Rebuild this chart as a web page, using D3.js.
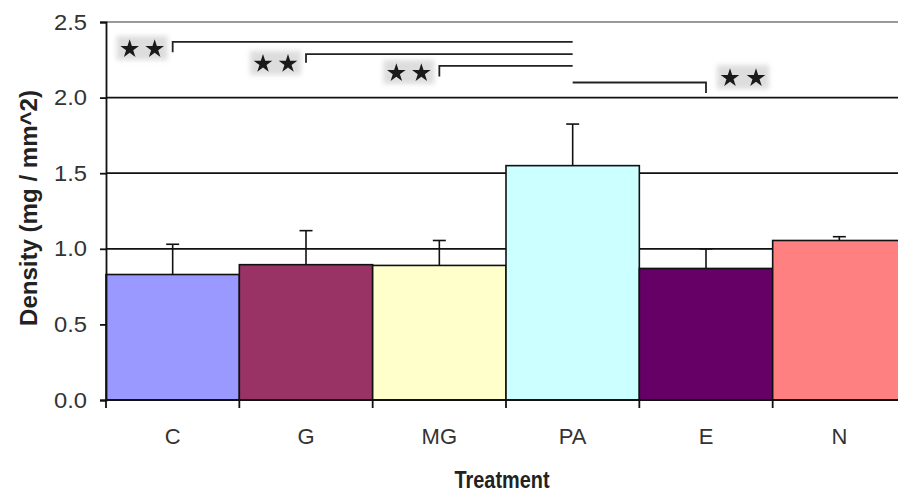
<!DOCTYPE html>
<html>
<head>
<meta charset="utf-8">
<script src="https://cdn.jsdelivr.net/npm/d3@7"></script>
<style>
  html, body { margin: 0; padding: 0; background: #fff; }
  svg { display: block; font-family: "Liberation Sans", Arial, sans-serif; }
</style>
</head>
<body>
<svg id="chart" width="898" height="493"></svg>
<script>
// Treatment groups and mean density with upward SD bars
const categories = ["C", "G", "MG", "PA", "E", "N"];
const means      = [0.83, 0.895, 0.89, 1.55, 0.87, 1.055];
const errors     = [0.20, 0.225, 0.165, 0.275, 0.13, 0.025];
const colors     = ["#9999ff", "#993366", "#ffffcc", "#ccffff", "#660066", "#ff8080"];
const yTicks     = [0, 0.5, 1.0, 1.5, 2.0, 2.5];

// Significance brackets (all compared against PA)
const sigFrom    = ["C", "G", "MG", "E"];
const sigLevel   = [2.368, 2.288, 2.21, 2.10];
const sigDrop    = [2.30, 2.23, 2.14, 2.03];
const sigStarY   = [2.328, 2.23, 2.169, 2.136];

const svg = d3.select("#chart");
const plotLeft = 106, plotRight = 906, plotTop = 22, plotBottom = 400;

const x = d3.scaleBand().domain(categories).range([plotLeft, plotRight]).padding(0);
const y = d3.scaleLinear().domain([0, 2.5]).range([plotBottom, plotTop]);

// blur for the shaded boxes behind the stars
const defs = svg.append("defs");
defs.append("filter").attr("id", "soft")
  .attr("x", "-30%").attr("y", "-50%").attr("width", "160%").attr("height", "200%")
  .append("feGaussianBlur").attr("stdDeviation", 2.5);

// horizontal gridlines
svg.append("g").selectAll("line")
  .data(yTicks.filter(d => d > 0 && d < 2.5))
  .join("line")
  .attr("x1", plotLeft).attr("x2", 898)
  .attr("y1", d => y(d)).attr("y2", d => y(d))
  .attr("stroke", "#111").attr("stroke-width", 1.8);

// plot area top border
svg.append("line")
  .attr("x1", plotLeft).attr("x2", 898)
  .attr("y1", y(2.5)).attr("y2", y(2.5))
  .attr("stroke", "#9a9a9a").attr("stroke-width", 2);

// bars
svg.append("g").selectAll("rect")
  .data(categories)
  .join("rect")
  .attr("x", d => x(d))
  .attr("y", (d, i) => y(means[i]))
  .attr("width", x.bandwidth())
  .attr("height", (d, i) => y(0) - y(means[i]))
  .attr("fill", (d, i) => colors[i])
  .attr("stroke", "#111").attr("stroke-width", 1.6);

// error bars (upper half only)
const eb = svg.append("g").attr("stroke", "#111").attr("stroke-width", 1.6);
categories.forEach((c, i) => {
  const cx = x(c) + x.bandwidth() / 2;
  eb.append("line").attr("x1", cx).attr("x2", cx)
    .attr("y1", y(means[i])).attr("y2", y(means[i] + errors[i]));
  eb.append("line").attr("x1", cx - 6.5).attr("x2", cx + 6.5)
    .attr("y1", y(means[i] + errors[i])).attr("y2", y(means[i] + errors[i]));
});

// y axis
const yAxis = svg.append("g")
  .attr("transform", `translate(${plotLeft},0)`)
  .call(d3.axisLeft(y).tickValues(yTicks).tickFormat(d3.format(".1f")).tickSize(6).tickPadding(13));
yAxis.select(".domain").attr("stroke", "#111").attr("stroke-width", 1.8);
yAxis.selectAll(".tick line").attr("stroke", "#111").attr("stroke-width", 1.8);
yAxis.selectAll(".tick text")
  .attr("font-size", 22).attr("fill", "#333")
  .attr("font-family", "Liberation Sans, Arial, sans-serif")
  .attr("textLength", 33).attr("lengthAdjust", "spacingAndGlyphs");

// x axis with ticks at category boundaries
const xg = svg.append("g").attr("transform", `translate(0,${plotBottom})`);
xg.append("line").attr("x1", plotLeft).attr("x2", 898).attr("y1", 0).attr("y2", 0)
  .attr("stroke", "#111").attr("stroke-width", 1.8);
xg.selectAll("line.tk")
  .data(categories)
  .join("line").attr("class", "tk")
  .attr("x1", d => x(d)).attr("x2", d => x(d))
  .attr("y1", 0).attr("y2", 8)
  .attr("stroke", "#111").attr("stroke-width", 1.8);
xg.selectAll("text")
  .data(categories)
  .join("text")
  .attr("x", d => x(d) + x.bandwidth() / 2)
  .attr("y", 44)
  .attr("text-anchor", "middle")
  .attr("font-size", 22).attr("fill", "#333")
  .text(d => d);

// axis titles
svg.append("text")
  .attr("x", 502).attr("y", 488)
  .attr("text-anchor", "middle")
  .attr("font-size", 24).attr("font-weight", "bold").attr("fill", "#222")
  .attr("textLength", 95).attr("lengthAdjust", "spacingAndGlyphs")
  .text("Treatment");

svg.append("text")
  .attr("transform", "translate(37,208) rotate(-90)")
  .attr("text-anchor", "middle")
  .attr("font-size", 23).attr("font-weight", "bold").attr("fill", "#222")
  .attr("textLength", 236).attr("lengthAdjust", "spacingAndGlyphs")
  .text("Density (mg / mm^2)");

// significance brackets
const pa = x("PA") + x.bandwidth() / 2;
const sig = svg.append("g");
sigFrom.forEach((c, i) => {
  const cx = x(c) + x.bandwidth() / 2;
  sig.append("path")
    .attr("d", `M${cx},${y(sigDrop[i])}V${y(sigLevel[i])}H${pa}`)
    .attr("fill", "none").attr("stroke", "#222").attr("stroke-width", 1.8);

  // star pair, left of the bracket foot or right of it when the foot is right of PA
  const sx = cx < pa ? [cx - 43, cx - 18] : [cx + 24, cx + 50];
  const sy = y(sigStarY[i]);
  sig.append("rect")
    .attr("x", sx[0] - 13).attr("y", sy - 12)
    .attr("width", sx[1] - sx[0] + 26).attr("height", 24)
    .attr("fill", "#cfcfcf").attr("opacity", 0.7)
    .attr("filter", "url(#soft)");
  sx.forEach(px => {
    sig.append("path")
      .attr("d", d3.symbol(d3.symbolStar, 108)())
      .attr("transform", `translate(${px},${sy + 1})`)
      .attr("fill", "#1a1a1a");
  });
});
</script>
</body>
</html>
